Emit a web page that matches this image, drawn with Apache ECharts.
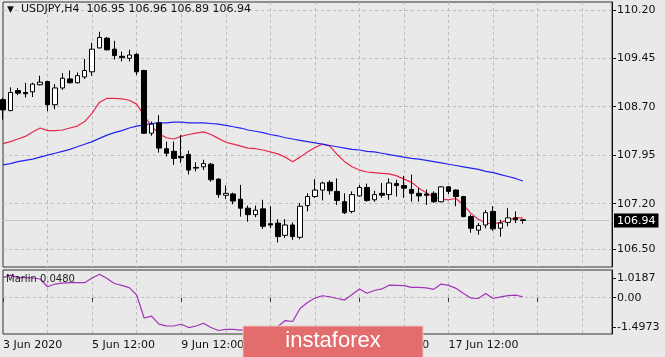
<!DOCTYPE html>
<html><head><meta charset="utf-8">
<script src="https://cdn.jsdelivr.net/npm/echarts@6/dist/echarts.min.js"></script>
<style>html,body{margin:0;padding:0;background:#e9e9e9;}#c{width:665px;height:357px;}</style>
</head><body><div id="c"></div>
<script>
const symbolName = 'USDJPY,H4';
const opens  = [108.81,108.64,108.95,108.92,108.93,109.04,109.09,108.73,108.99,109.13,109.07,109.16,109.24,109.61,109.76,109.59,109.48,109.45,109.51,109.26,108.29,108.45,108.05,108.01,107.93,107.96,107.76,107.77,107.81,107.58,107.33,107.35,107.27,107.13,107.03,107.12,106.89,106.90,106.71,106.87,106.68,107.17,107.31,107.41,107.53,107.39,107.23,107.08,107.32,107.45,107.26,107.36,107.34,107.51,107.48,107.42,107.36,107.35,107.36,107.23,107.46,107.41,107.31,107.00,106.79,106.87,107.08,106.82,106.91,106.98,106.95];
const highs  = [108.84,109.00,108.99,109.07,109.07,109.18,109.10,109.05,109.22,109.26,109.23,109.44,109.69,109.86,109.78,109.72,109.55,109.58,109.53,109.27,108.47,108.57,108.16,108.16,108.26,108.02,107.84,107.88,107.83,107.59,107.48,107.37,107.49,107.17,107.17,107.26,107.16,106.96,106.96,106.91,107.21,107.36,107.58,107.54,107.56,107.59,107.36,107.39,107.49,107.51,107.40,107.52,107.59,107.57,107.63,107.65,107.44,107.42,107.39,107.47,107.47,107.42,107.32,107.03,106.90,107.10,107.16,106.95,107.13,107.08,106.96];
const lows   = [108.50,108.63,108.88,108.84,108.85,109.03,108.63,108.66,108.96,109.06,109.06,109.13,109.18,109.60,109.57,109.43,109.40,109.40,109.19,108.28,108.25,107.99,107.93,107.80,107.83,107.65,107.70,107.72,107.54,107.29,107.27,107.19,107.00,106.92,106.99,106.81,106.82,106.60,106.67,106.64,106.65,107.08,107.29,107.25,107.34,107.18,107.04,107.05,107.31,107.23,107.23,107.29,107.26,107.31,107.29,107.23,107.23,107.18,107.21,107.22,107.35,107.16,106.99,106.75,106.72,106.82,106.78,106.69,106.85,106.90,106.89];
const closes = [108.65,108.92,108.91,108.90,109.05,109.08,108.73,108.99,109.14,109.07,109.18,109.26,109.59,109.77,109.58,109.49,109.46,109.50,109.24,108.29,108.43,108.06,107.98,107.90,107.91,107.72,107.75,107.82,107.57,107.34,107.36,107.24,107.13,107.03,107.10,106.85,106.87,106.69,106.87,106.69,107.16,107.31,107.41,107.52,107.40,107.25,107.06,107.34,107.45,107.25,107.34,107.33,107.52,107.48,107.44,107.36,107.32,107.33,107.23,107.46,107.39,107.31,107.00,106.82,106.86,107.06,106.81,106.90,106.98,106.95,106.94];
const maRed  = [108.13,108.16,108.20,108.24,108.31,108.37,108.33,108.33,108.34,108.37,108.40,108.47,108.60,108.77,108.83,108.83,108.82,108.80,108.74,108.56,108.40,108.28,108.22,108.20,108.24,108.27,108.29,108.31,108.27,108.21,108.15,108.12,108.09,108.06,108.05,108.03,108.00,107.97,107.92,107.85,107.92,108.00,108.07,108.12,108.09,107.96,107.85,107.77,107.72,107.69,107.68,107.67,107.66,107.63,107.58,107.53,107.44,107.37,107.30,107.27,107.26,107.28,107.18,107.05,106.96,106.90,106.89,106.91,106.95,106.98,106.98];
const maBlue = [107.80,107.82,107.85,107.87,107.89,107.92,107.95,107.98,108.01,108.04,108.08,108.12,108.16,108.21,108.26,108.30,108.33,108.37,108.40,108.42,108.44,108.45,108.45,108.46,108.46,108.45,108.45,108.45,108.44,108.43,108.41,108.39,108.37,108.34,108.32,108.30,108.27,108.25,108.22,108.20,108.18,108.16,108.14,108.12,108.10,108.08,108.06,108.04,108.03,108.01,108.00,107.98,107.96,107.94,107.92,107.90,107.89,107.87,107.85,107.83,107.81,107.79,107.77,107.75,107.73,107.70,107.68,107.65,107.62,107.59,107.55];
const marlin = [1.03,1.16,1.03,1.03,1.01,0.96,0.56,0.70,0.75,0.77,0.77,0.77,1.01,1.20,0.98,0.73,0.63,0.52,0.14,-1.04,-0.94,-1.35,-1.44,-1.45,-1.36,-1.53,-1.45,-1.31,-1.53,-1.68,-1.62,-1.62,-1.66,-1.66,-1.68,-1.71,-1.66,-1.48,-1.17,-1.22,-0.55,-0.25,-0.02,0.10,0.05,-0.04,-0.12,0.16,0.45,0.23,0.37,0.45,0.64,0.63,0.62,0.53,0.53,0.50,0.43,0.70,0.63,0.48,0.22,-0.02,-0.04,0.22,-0.04,0.04,0.11,0.13,0.05];
const marlinValueText = '0.0480';
const emptySlots = 12;
const priceTicks = [110.20,109.45,108.70,107.95,107.20,106.50];
const marlinTicks = [1.0187,0,-1.4973];
const marlinTickLabels = ['1.0187','0.00','-1.4973'];
const timeLabels = ['3 Jun 2020','5 Jun 12:00','9 Jun 12:00','11 Jun 12:00','15 Jun 12:00','17 Jun 12:00'];
const labelStep = 12;
const gridStep = 6;

const n = opens.length;
const lastPrice = closes[n - 1];
const categories = [];
for (let i = 0; i < n + emptySlots; i++) categories.push(String(i));
const candles = opens.map((o, i) => [o, closes[i], lows[i], highs[i]]);

const FONT = 'DejaVu Sans';
const TXT = '#111';
const GRIDC = '#bcbcbc';
const chart = echarts.init(document.getElementById('c'));
const isLast = v => Math.abs(v - lastPrice) < 1e-9;
chart.setOption({
  backgroundColor: '#e9e9e9',
  animation: false,
  textStyle: { fontFamily: FONT },
  title: [
    { text: '{t|▼}  ' + symbolName + '  ' + [opens[n-1], highs[n-1], lows[n-1], closes[n-1]].map(v => v.toFixed(2)).join(' '),
      left: 7, top: 4, padding: 0,
      textStyle: { fontSize: 11, fontWeight: 'normal', color: TXT, fontFamily: FONT, rich: { t: { fontSize: 9, color: TXT, fontFamily: FONT } } } },
    { text: 'Marlin ' + marlinValueText, left: 6, top: 274, padding: 0,
      textStyle: { fontSize: 10, fontWeight: 'normal', color: '#222', fontFamily: FONT } }
  ],
  grid: [
    { left: 3, right: 53, top: 2, height: 265, show: true, borderColor: '#333', borderWidth: 1, backgroundColor: 'transparent' },
    { left: 3, right: 53, top: 270, height: 64, show: true, borderColor: '#333', borderWidth: 1, backgroundColor: 'transparent' }
  ],
  xAxis: [
    { type: 'category', gridIndex: 0, data: categories, boundaryGap: false,
      axisLine: { show: false }, axisTick: { show: false }, axisLabel: { show: false },
      splitLine: { show: true, interval: i => i > 0 && i % gridStep === 0, lineStyle: { color: GRIDC, type: [3, 3], width: 1 } } },
    { type: 'category', gridIndex: 1, data: categories, boundaryGap: false,
      axisLine: { show: false },
      axisTick: { show: true, interval: i => i % labelStep === 0, length: 4, lineStyle: { color: '#333' } },
      axisLabel: { show: true, interval: i => i % labelStep === 0, align: 'left', margin: 6, color: TXT, fontSize: 11, fontFamily: FONT,
        formatter: (v, i) => timeLabels[i / labelStep] || '' },
      splitLine: { show: true, interval: i => i > 0 && i % gridStep === 0, lineStyle: { color: GRIDC, type: [3, 3], width: 1 } } }
  ],
  yAxis: [
    { type: 'value', gridIndex: 0, position: 'right', min: 106.22, max: 110.32,
      axisLine: { show: true, lineStyle: { color: '#111' } },
      axisTick: { show: true, length: 4, customValues: priceTicks, lineStyle: { color: '#111' } },
      axisLabel: { customValues: priceTicks.concat([lastPrice]), margin: 2, color: TXT, fontSize: 11, fontFamily: FONT,
        formatter: v => isLast(v) ? '{cur|' + v.toFixed(2) + '}' : '{n|' + v.toFixed(2) + '}',
        rich: { n: { padding: [0, 3, 0, 3], color: TXT, fontSize: 11, fontFamily: FONT },
                cur: { padding: [2, 3, 1, 3], backgroundColor: '#000', color: '#fff', fontSize: 11, fontFamily: FONT } } },
      splitLine: { show: true, lineStyle: { color: GRIDC, type: [3, 3], width: 1 } } },
    { type: 'value', gridIndex: 1, position: 'right', min: -1.86, max: 1.42,
      axisLine: { show: true, lineStyle: { color: '#111' } },
      axisTick: { show: true, length: 4, customValues: marlinTicks, lineStyle: { color: '#111' } },
      axisLabel: { customValues: marlinTicks, margin: 5, color: TXT, fontSize: 11, fontFamily: FONT,
        formatter: v => marlinTickLabels[marlinTicks.findIndex(t => Math.abs(t - v) < 1e-9)] },
      splitLine: { show: false } }
  ],
  series: [
    { type: 'candlestick', xAxisIndex: 0, yAxisIndex: 0, data: candles, barWidth: 5, z: 3,
      itemStyle: { color: '#ffffff', color0: '#000000', borderColor: '#000000', borderColor0: '#000000', borderWidth: 1 },
      markLine: { silent: true, symbol: ['none', 'none'], label: { show: false }, z: 1,
        lineStyle: { color: '#c9c9c9', type: 'solid', width: 1 }, data: [{ yAxis: lastPrice }] } },
    { type: 'line', xAxisIndex: 0, yAxisIndex: 0, data: maRed, showSymbol: false, symbol: 'none', z: 2,
      lineStyle: { color: '#e8294a', width: 1.2 } },
    { type: 'line', xAxisIndex: 0, yAxisIndex: 0, data: maBlue, showSymbol: false, symbol: 'none', z: 2,
      lineStyle: { color: '#2323f2', width: 1.2 } },
    { type: 'line', xAxisIndex: 1, yAxisIndex: 1, data: marlin, showSymbol: false, symbol: 'none', z: 2,
      lineStyle: { color: '#a133b8', width: 1.2 },
      markLine: { silent: true, symbol: ['none', 'none'], label: { show: false }, z: 1,
        lineStyle: { color: GRIDC, type: [3, 3], width: 1 }, data: [{ yAxis: 0 }] } }
  ],
  graphic: [
    { type: 'group', z: 100, children: [
      { type: 'rect', z: 100, shape: { x: 243, y: 326, width: 180, height: 32 }, style: { fill: '#e36c6c', stroke: '#f0c2c2', lineWidth: 1 } },
      { type: 'text', z: 101, x: 333, y: 341, style: { text: 'instaforex', fill: '#ffffff', fontSize: 22, fontFamily: 'Liberation Sans', align: 'center', verticalAlign: 'middle' } }
    ] }
  ]
});
</script></body></html>
